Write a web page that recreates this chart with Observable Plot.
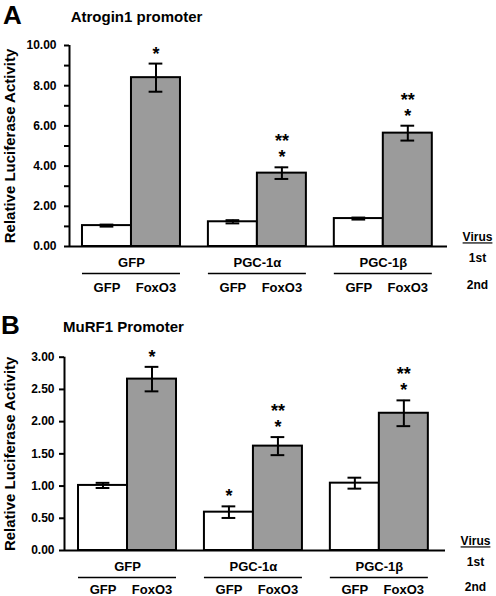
<!DOCTYPE html>
<html>
<head>
<meta charset="utf-8">
<script src="https://cdn.jsdelivr.net/npm/d3@7"></script>
<script src="https://cdn.jsdelivr.net/npm/@observablehq/plot@0.6"></script>
<style>
  html, body { margin: 0; padding: 0; background: #fff; }
  #chart { width: 496px; height: 596px; }
  #chart svg { display: block; font-family: "Liberation Sans", Arial, sans-serif; }
  #chart svg text { font-weight: bold; }
  #chart g[aria-label^="y-axis"] { stroke-width: 2px; }
  #chart g[aria-label^="y-axis"] text, #chart g[aria-label="y-axis tick label"] { font-size: 12px; stroke: none; }
</style>
</head>
<body>
<div id="chart"></div>
<script>
// ---- data ----
const groups = ["GFP", "PGC-1α", "PGC-1β"];        // 1st virus
const treatments = ["GFP", "FoxO3"];                 // 2nd virus
const virusLabels = ["Virus", "1st", "2nd"];

const atroginMean = [1.04, 8.40, 1.23, 3.65, 1.39, 5.64];
const atroginErr  = [0.05, 0.70, 0.08, 0.29, 0.05, 0.37];
const atroginSig  = ["", "*", "", "**\n*", "", "**\n*"];
const atroginTicks = [0, 1, 2, 3, 4, 5, 6, 7, 8, 9, 10];

const murfMean = [1.01, 2.66, 0.595, 1.62, 1.045, 2.13];
const murfErr  = [0.04, 0.19, 0.09, 0.14, 0.085, 0.20];
const murfSig  = ["", "*", "*", "**\n*", "", "**\n*"];
const murfTicks = [0, 0.5, 1, 1.5, 2, 2.5, 3];

const GROUP_STEP = 2.57;
const GRAY = "#9b9b9b";

function buildRows(means, errs, sigs) {
  return means.map((m, i) => {
    const g = Math.floor(i / 2), t = i % 2;
    const x1 = g * GROUP_STEP + t;
    return {group: groups[g], treatment: treatments[t], mean: m, err: errs[i], sig: sigs[i],
            x1, x2: x1 + 1, xc: x1 + 0.5, lo: m - errs[i], hi: m + errs[i]};
  });
}
const groupRows = groups.map((g, i) => ({group: g, start: i * GROUP_STEP, end: i * GROUP_STEP + 2, center: i * GROUP_STEP + 1}));

function panel(opts) {
  const rows = buildRows(opts.mean, opts.err, opts.sig);
  const cap = 0.14;
  const C = {textAnchor: "middle", lineAnchor: "middle"};
  return Plot.plot({
    width: 496, height: 298,
    marginTop: opts.mt, marginBottom: 298 - opts.mt - opts.ph, marginLeft: opts.ml, marginRight: opts.mr,
    x: {domain: opts.xdom, axis: null},
    y: {domain: [0, opts.ymax], ticks: opts.ticks, tickFormat: opts.fmt, tickSize: 5, tickPadding: opts.pad, label: null},
    marks: [
      Plot.rectY(rows, {x1: "x1", x2: "x2", y1: 0, y2: "mean", fill: d => d.treatment === "GFP" ? "white" : GRAY, stroke: "black", strokeWidth: 2}),
      Plot.ruleX(rows, {x: "xc", y1: "lo", y2: "hi", stroke: "black", strokeWidth: 2}),
      Plot.ruleY(rows, {y: "hi", x1: d => d.xc - cap, x2: d => d.xc + cap, stroke: "black", strokeWidth: 2}),
      Plot.ruleY(rows, {y: "lo", x1: d => d.xc - cap, x2: d => d.xc + cap, stroke: "black", strokeWidth: 2}),
      Plot.text(rows.filter(d => d.sig), {x: "xc", y: "hi", text: "sig", lineAnchor: "bottom", fontSize: 18, lineHeight: 0.9, dy: -4}),
      Plot.ruleX([opts.xdom[0]], {y1: 0, y2: opts.ymax, stroke: "black", strokeWidth: 2}),
      Plot.ruleY([0], {stroke: "black", strokeWidth: 2}),
      // group labels (1st virus)
      Plot.text(groupRows, {x: "center", y: 0, text: "group", dy: 16, fontSize: 13}),
      Plot.ruleY(groupRows, {y: 0, x1: "start", x2: "end", dy: 27, stroke: "black", strokeWidth: 1.5}),
      // treatment labels (2nd virus)
      Plot.text(rows, {x: "xc", y: 0, text: "treatment", dy: opts.row2, fontSize: 13}),
      // virus legend
      Plot.text([virusLabels[0]], {...C, frameAnchor: "bottom-right", dx: 30, dy: -9, fontSize: 12}),
      Plot.text([virusLabels[1]], {...C, frameAnchor: "bottom-right", dx: 30, dy: 12, fontSize: 12}),
      Plot.text([virusLabels[2]], {...C, frameAnchor: "bottom-right", dx: 30, dy: opts.row2 - 2, fontSize: 12}),
      // titles
      Plot.text([opts.letter], {...C, frameAnchor: "top-left", dx: opts.letterDx, dy: opts.letterDy, fontSize: 26}),
      Plot.text([opts.title], {...C, frameAnchor: "top-left", dx: opts.titleDx, dy: opts.titleDy, fontSize: 15}),
      Plot.text(["Relative Luciferase Activity"], {...C, frameAnchor: "left", dx: opts.labelDx, rotate: -90, fontSize: 15})
    ]
  });
}

const chartA = panel({
  mean: atroginMean, err: atroginErr, sig: atroginSig, ticks: atroginTicks, ymax: 10,
  fmt: d => d % 2 ? "" : d.toFixed(2), pad: 8, row2: 41,
  mt: 45, ph: 201, ml: 69, mr: 49, xdom: [-0.265, 7.45],
  letter: "A", letterDx: -57, letterDy: -30, title: "Atrogin1 promoter", titleDx: 67, titleDy: -28, labelDx: -59
});
const chartB = panel({
  mean: murfMean, err: murfErr, sig: murfSig, ticks: murfTicks, ymax: 3,
  fmt: d => d.toFixed(2), pad: 5, row2: 39,
  mt: 58.7, ph: 193.3, ml: 64, mr: 51, xdom: [-0.286, 7.49],
  letter: "B", letterDx: -54, letterDy: -32, title: "MuRF1 Promoter", titleDx: 59, titleDy: -30, labelDx: -54
});

const root = document.getElementById("chart");
root.append(chartA, chartB);
d3.select(root).selectAll("text").filter(function() { return this.textContent === "Virus"; })
  .style("text-decoration", "underline");
</script>
</body>
</html>
